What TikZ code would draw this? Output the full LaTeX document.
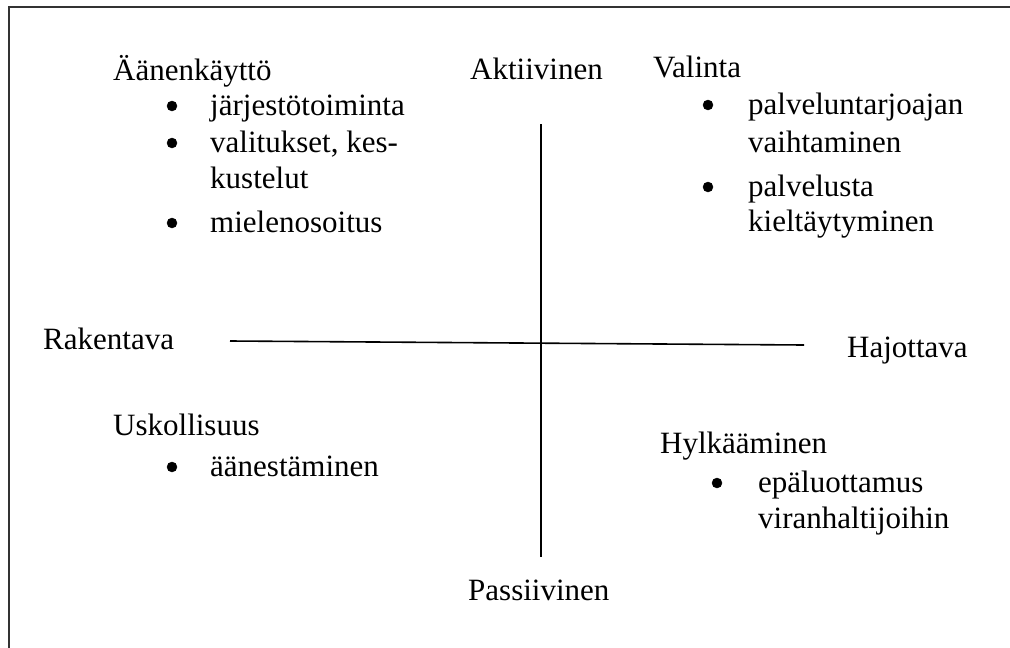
\documentclass[tikz,border=0pt]{standalone}
\usepackage{fontspec}
\setmainfont{Liberation Serif}
\begin{document}
\begin{tikzpicture}[x=1pt,y=-1pt,
  lbl/.style={anchor=base west,inner sep=0pt,font=\fontsize{31}{35}\selectfont},
  dot/.style={circle,fill=black,draw=black,inner sep=0pt,minimum size=10pt},
  axis/.style={line width=1.6pt,black},
  frame/.style={line width=1.4pt,black!80}]
\useasboundingbox (0,0) rectangle (1010,648);
% open frame: top and left edges only
\draw[frame] (9,648) -- (9,7) -- (1010,7);

% axis end points
\coordinate (top) at (541,124);
\coordinate (bottom) at (541,557);
\coordinate (left) at (230,341);
\coordinate (right) at (804,345);
\draw[axis] (top) -- (bottom);
\draw[axis] (left) -- (right);

% axis labels
\node[lbl] (akt) at (470,79) {Aktiivinen};
\node[lbl] (pas) at (468,600) {Passiivinen};
\node[lbl] (rak) at (43,349) {Rakentava};
\node[lbl] (haj) at (847,357) {Hajottava};

% upper left quadrant
\node[lbl] (aan) at (113,80) {Äänenkäyttö};
\node[dot] (b1) at (172,106) {};
\node[lbl] (t1) at (210,115) {järjestötoiminta};
\node[dot] (b2) at (172,143) {};
\node[lbl] (t2) at (210,152) {valitukset, kes-};
\node[lbl] (t2b) at (210,188) {kustelut};
\node[dot] (b3) at (172,223) {};
\node[lbl] (t3) at (210,232) {mielenosoitus};

% upper right quadrant
\node[lbl] (val) at (653,77) {Valinta};
\node[dot] (b4) at (708,105) {};
\node[lbl] (t4) at (748,114) {palveluntarjoajan};
\node[lbl] (t4b) at (748,152) {vaihtaminen};
\node[dot] (b5) at (708,187) {};
\node[lbl] (t5) at (748,196) {palvelusta};
\node[lbl] (t5b) at (748,231) {kieltäytyminen};

% lower left quadrant
\node[lbl] (usk) at (113,435) {Uskollisuus};
\node[dot] (b6) at (172,467) {};
\node[lbl] (t6) at (210,476) {äänestäminen};

% lower right quadrant
\node[lbl] (hyl) at (660,453) {Hylkääminen};
\node[dot] (b7) at (717,483) {};
\node[lbl] (t7) at (758,492) {epäluottamus};
\node[lbl] (t7b) at (758,528) {viranhaltijoihin};
\end{tikzpicture}
\end{document}
